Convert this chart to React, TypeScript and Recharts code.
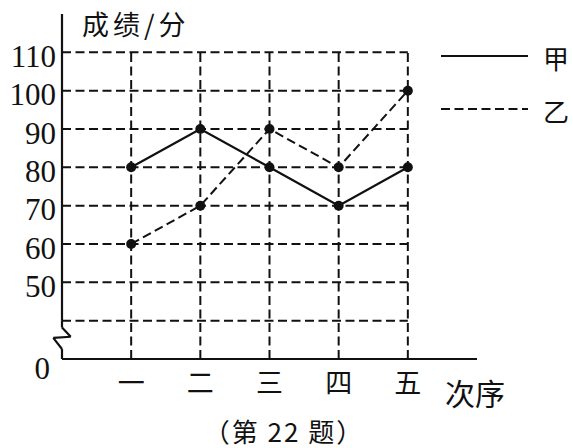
import React from 'react';
import { LineChart, Line, XAxis, YAxis, ReferenceLine } from 'recharts';

const categories = ['一', '二', '三', '四', '五'];
const jiaScores = [80, 90, 80, 70, 80];
const yiScores = [60, 70, 90, 80, 100];
const yTicks = [30, 50, 60, 70, 80, 90, 100, 110];
const gridYValues = [40, 50, 60, 70, 80, 90, 100, 110];
const gridXValues = [1, 2, 3, 4, 5];
const zeroTick = 30;

const data = categories.map((c, i) => ({ idx: i + 1, name: c, jia: jiaScores[i], yi: yiScores[i] }));

// axis break decoration (data coordinates)
const breakPts = [
  { x: 0, y: 40 },
  { x: 0, y: 38.2 },
  { x: 0.126, y: 35.8 },
  { x: -0.126, y: 35.5 },
  { x: 0, y: 32.6 },
  { x: 0, y: 30 },
];

const serif = '"Liberation Serif", "DejaVu Serif", serif';
const cjk = '"Noto Sans CJK SC", sans-serif';
const DASH = '9 4.5';

const YTick = (props: any) => {
  const { y, payload } = props;
  const v = payload.value;
  const isZero = v === zeroTick;
  return (
    <text x={isZero ? 50 : 56} y={y + (isZero ? 9 : 4)} textAnchor="end" dominantBaseline="central"
      fontFamily={serif} fontSize={31} fill="#111">
      {isZero ? '0' : String(v)}
    </text>
  );
};

const XTick = (props: any) => {
  const { x, payload } = props;
  return (
    <text x={x} y={381} textAnchor="middle" dominantBaseline="central" fontFamily={cjk} fontSize={27} fill="#111">
      {categories[payload.value - 1]}
    </text>
  );
};

export default function App() {
  return (
    <div style={{ position: 'absolute', left: 0, top: 0, width: 573, height: 448, background: '#fff' }}>
      <LineChart width={573} height={448} data={data} margin={{ top: 14, right: 96, bottom: 0, left: 0 }}>
        <XAxis dataKey="idx" type="number" domain={[0, 6]} ticks={[1, 2, 3, 4, 5]} allowDataOverflow
          height={89} axisLine={{ stroke: '#111', strokeWidth: 2 }} tickLine={false} tick={<XTick />} />
        <YAxis type="number" domain={[30, 120]} ticks={yTicks} width={62} allowDataOverflow
          axisLine={false} tickLine={false} tick={<YTick />} />
        {gridYValues.map((v) => (
          <ReferenceLine key={'h' + v} segment={[{ x: 0, y: v }, { x: 5, y: v }]} stroke="#111" strokeWidth={2} strokeDasharray={DASH} />
        ))}
        {gridXValues.map((v) => (
          <ReferenceLine key={'v' + v} segment={[{ x: v, y: 30 }, { x: v, y: 110 }]} stroke="#111" strokeWidth={2} strokeDasharray={DASH} />
        ))}
        <ReferenceLine segment={[{ x: 0, y: 40 }, { x: 0, y: 120 }]} stroke="#111" strokeWidth={2.2} ifOverflow="visible" />
        {breakPts.slice(1).map((p, i) => (
          <ReferenceLine key={'b' + i} segment={[breakPts[i], p]} stroke="#111" strokeWidth={2.2} ifOverflow="visible" />
        ))}
        <Line dataKey="jia" stroke="#111" strokeWidth={2.2} isAnimationActive={false}
          dot={{ r: 5, fill: '#111', stroke: '#111', strokeWidth: 0 }} activeDot={false} />
        <Line dataKey="yi" stroke="#111" strokeWidth={2} strokeDasharray={DASH} isAnimationActive={false}
          dot={{ r: 5, fill: '#111', stroke: '#111', strokeWidth: 0, strokeDasharray: '0' }} activeDot={false} />
      </LineChart>
      <svg style={{ position: 'absolute', left: 0, top: 0 }} width={573} height={448}>
        <text x={82} y={23} dominantBaseline="central" fontFamily={cjk} fontSize={27} letterSpacing={4} fill="#111">成绩/分</text>
        <line x1={441} y1={56} x2={528} y2={56} stroke="#111" strokeWidth={2} />
        <line x1={441} y1={109} x2={528} y2={109} stroke="#111" strokeWidth={2} strokeDasharray={DASH} />
        <text x={543} y={57} dominantBaseline="central" fontFamily={cjk} fontSize={26} fill="#111">甲</text>
        <text x={543} y={110} dominantBaseline="central" fontFamily={cjk} fontSize={26} fill="#111">乙</text>
        <text x={445} y={392} dominantBaseline="central" fontFamily={cjk} fontSize={30} fill="#111">次序</text>
        <text x={284} y={430} textAnchor="middle" dominantBaseline="central" fontFamily={cjk} fontSize={26} letterSpacing={2} fill="#111">（第 22 题）</text>
      </svg>
    </div>
  );
}
